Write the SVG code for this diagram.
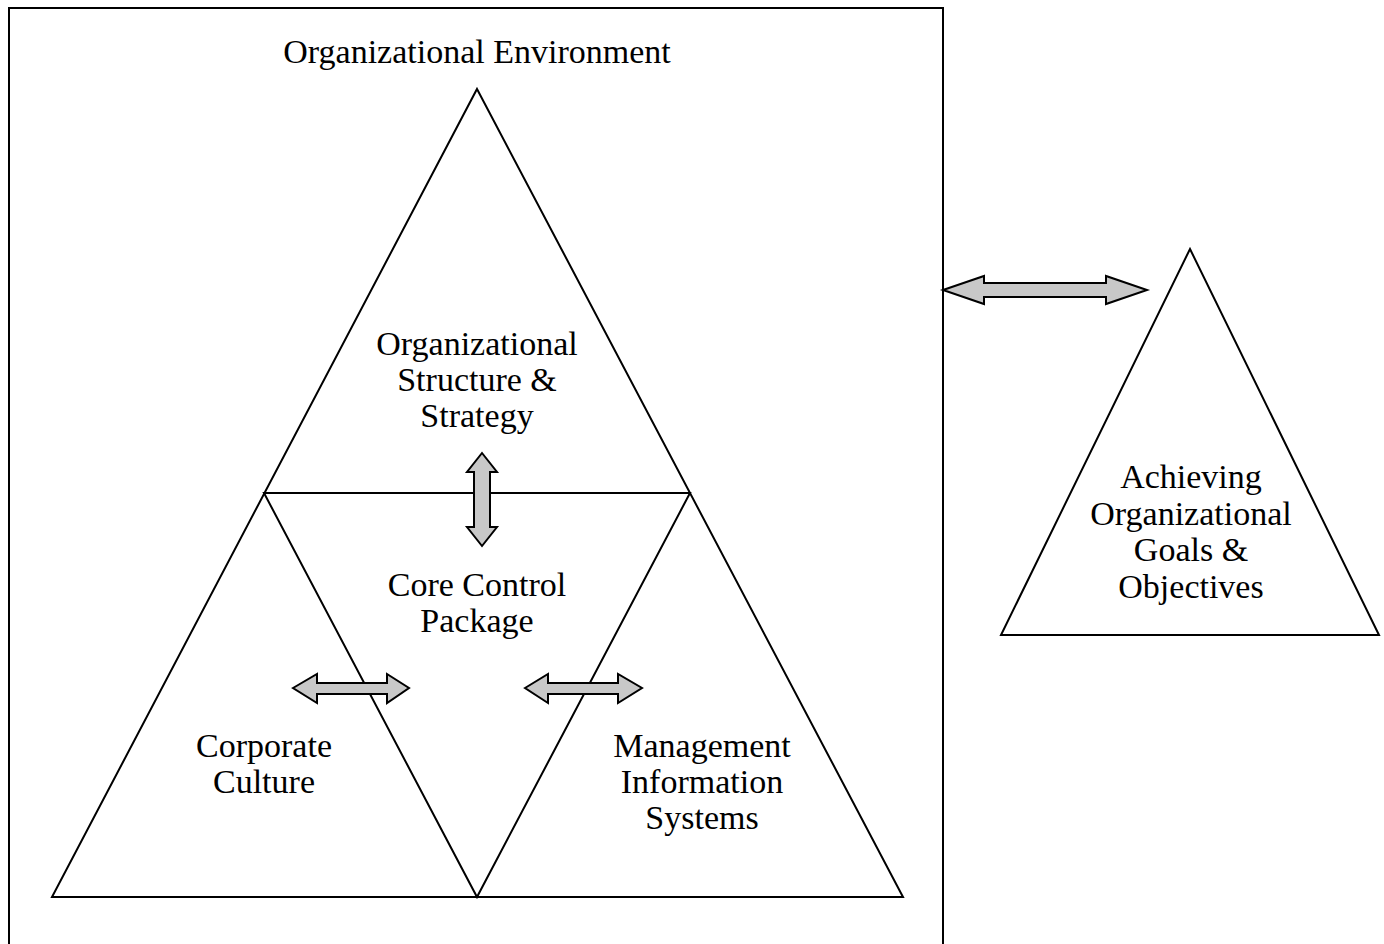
<svg xmlns="http://www.w3.org/2000/svg" width="1384" height="944" viewBox="0 0 1384 944">
<style>
.bg{fill:#ffffff}
.frame{fill:none;stroke:#000;stroke-width:2}
.tri{fill:none;stroke:#000;stroke-width:2;stroke-linejoin:miter}
.arr{fill:#c8c8c8;stroke:#000;stroke-width:2;stroke-linejoin:miter}
.lbl{font-family:"Liberation Serif","Times New Roman",serif;font-size:34px;fill:#000;text-anchor:middle}
</style>
<rect class="bg" x="0" y="0" width="1384" height="944"/>
<g id="environment">
<rect class="frame" x="9" y="8" width="934" height="960"/>
<text class="lbl" x="477" y="63">Organizational Environment</text>
</g>
<g id="main-triangle">
<polygon class="tri" points="477,89 903,897 52,897"/>
<line class="tri" x1="264" y1="493" x2="690" y2="493"/>
<polygon class="tri" points="264,493 690,493 477,897"/>
</g>
<g id="structure-strategy">
<text class="lbl" x="477" y="355">Organizational</text>
<text class="lbl" x="477" y="391">Structure &amp;</text>
<text class="lbl" x="477" y="427">Strategy</text>
</g>
<g id="core-control">
<text class="lbl" x="477" y="596">Core Control</text>
<text class="lbl" x="477" y="632">Package</text>
</g>
<g id="corporate-culture">
<text class="lbl" x="264" y="757">Corporate</text>
<text class="lbl" x="264" y="793">Culture</text>
</g>
<g id="mis">
<text class="lbl" x="702" y="757">Management</text>
<text class="lbl" x="702" y="793">Information</text>
<text class="lbl" x="702" y="829">Systems</text>
</g>
<g id="goals">
<polygon class="tri" points="1190,249 1379,635 1001,635"/>
<text class="lbl" x="1191" y="488">Achieving</text>
<text class="lbl" x="1191" y="525">Organizational</text>
<text class="lbl" x="1191" y="561">Goals &amp;</text>
<text class="lbl" x="1191" y="598">Objectives</text>
</g>
<g id="connectors">
<polygon class="arr" points="943,290 984,276 984,283 1106,283 1106,276 1147,290 1106,304 1106,297 984,297 984,304"/>
<polygon class="arr" points="482,453 497,472 490,472 490,527 497,527 482,546 467,527 474,527 474,472 467,472"/>
<polygon class="arr" points="293,688 317,674 317,683 387,683 387,674 409,688 387,703 387,694 317,694 317,703"/>
<polygon class="arr" points="525,688 548,674 548,683 618,683 618,674 642,688 618,703 618,694 548,694 548,703"/>
</g>
</svg>
